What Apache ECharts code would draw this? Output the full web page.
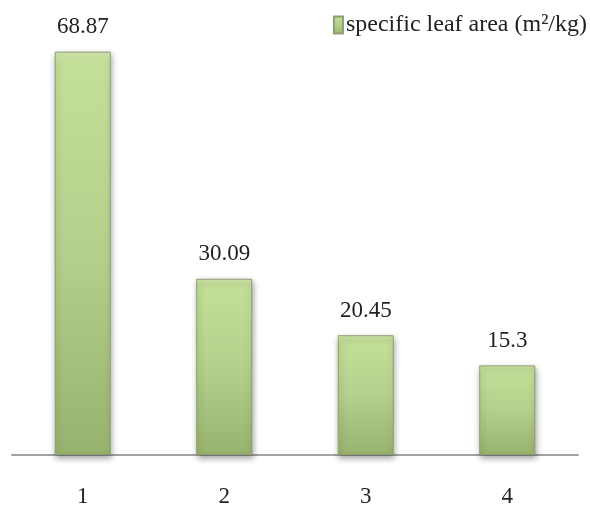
<!DOCTYPE html>
<html>
<head>
<meta charset="utf-8">
<script src="https://cdn.jsdelivr.net/npm/echarts@6/dist/echarts.min.js"></script>
<style>
  html, body { margin: 0; padding: 0; background: #fff; }
  #chart { width: 590px; height: 508px; }
</style>
</head>
<body>
<div id="chart"></div>
<script>
// categories and values
const categories = ['1', '2', '3', '4']
const leafArea = [68.87, 30.09, 20.45, 15.3]
const seriesName = 'specific leaf area (m²/kg)'

const chart = echarts.init(document.getElementById('chart'))
const font = 'Liberation Serif, Times New Roman, serif'

chart.setOption({
  animation: false,
  backgroundColor: '#fff',
  textStyle: { fontFamily: font },
  grid: { left: 12, right: 12, top: 45, bottom: 52 },
  legend: {
    top: 8,
    right: -2,
    itemWidth: 9,
    itemHeight: 17,
    itemGap: 4,
    icon: 'rect',
    textStyle: { fontFamily: font, fontSize: 24, color: '#222', padding: [0, 0, 0, -2] },
    data: [seriesName]
  },
  xAxis: {
    type: 'category',
    data: categories,
    axisLine: { lineStyle: { color: '#a3a3a3', width: 2 } },
    axisTick: { show: false },
    axisLabel: { fontFamily: font, fontSize: 23, color: '#222', margin: 30 }
  },
  yAxis: {
    type: 'value',
    min: 0,
    max: 70,
    show: false,
    splitLine: { show: false }
  },
  series: [{
    name: seriesName,
    type: 'bar',
    data: leafArea,
    barWidth: 56,
    itemStyle: {
      color: {
        type: 'linear', x: 0, y: 0, x2: 0, y2: 1,
        colorStops: [
          { offset: 0, color: '#d6eab0' },
          { offset: 0.03, color: '#c3df98' },
          { offset: 0.5, color: '#b4d08a' },
          { offset: 1, color: '#98b36d' }
        ]
      },
      borderColor: '#8d9e72',
      borderWidth: 1,
      shadowColor: 'rgba(0,0,0,0.35)',
      shadowBlur: 6,
      shadowOffsetX: 1,
      shadowOffsetY: 3
    },
    label: {
      show: true,
      position: 'top',
      distance: 13,
      fontFamily: font,
      fontSize: 23,
      color: '#222'
    }
  }]
})
</script>
</body>
</html>
